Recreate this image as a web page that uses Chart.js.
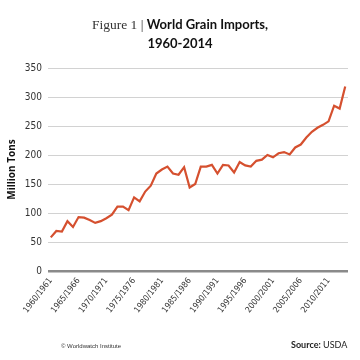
<!DOCTYPE html>
<html>
<head>
<meta charset="utf-8">
<script src="https://cdn.jsdelivr.net/npm/chart.js@4"></script>
<style>
  body { margin: 0; background: #fff; }
  #wrap { position: relative; width: 360px; height: 360px; }
  #title { position: absolute; left: 0; top: 15px; width: 360px; text-align: center; line-height: 18px; color: #111; }
  #title .fig { font-family: 'Liberation Serif', serif; font-size: 13.5px; color: #333; }
  #title .bold { font-family: 'Lato', sans-serif; font-weight: 700; font-size: 13px; }
  #copy { position: absolute; left: 61px; top: 343px; font-family: 'Liberation Sans', sans-serif; font-size: 6px; color: #333; }
  #source { position: absolute; left: 291px; top: 339px; font-family: 'Lato', sans-serif; font-size: 9px; color: #222; }
</style>
</head>
<body>
<div id="wrap">
  <canvas id="Chart1" width="360" height="360"></canvas>
  <div id="title"><span class="fig">Figure 1 | </span><span class="bold">World Grain Imports,</span><br><span class="bold">1960-2014</span></div>
  <div id="copy">© Worldwatch Institute</div>
  <div id="source"><b>Source:</b> USDA</div>
</div>
<script>
// marketing years 1960/1961 .. 2013/2014
const years = ['1960/1961','1961/1962','1962/1963','1963/1964','1964/1965','1965/1966','1966/1967','1967/1968','1968/1969','1969/1970',
  '1970/1971','1971/1972','1972/1973','1973/1974','1974/1975','1975/1976','1976/1977','1977/1978','1978/1979','1979/1980',
  '1980/1981','1981/1982','1982/1983','1983/1984','1984/1985','1985/1986','1986/1987','1987/1988','1988/1989','1989/1990',
  '1990/1991','1991/1992','1992/1993','1993/1994','1994/1995','1995/1996','1996/1997','1997/1998','1998/1999','1999/2000',
  '2000/2001','2001/2002','2002/2003','2003/2004','2004/2005','2005/2006','2006/2007','2007/2008','2008/2009','2009/2010',
  '2010/2011','2011/2012','2012/2013','2013/2014'];

// million tons
const imports = [58,69,68,86,76,93,92,88,83,86,
  91,97,111,111,105,127,120,137,147,168,
  175,180,168,166,179,144,150,180,180,183,
  168,183,182,170,188,182,180,190,192,200,
  196,203,205,201,213,218,230,240,247,252,
  258,285,280,318];

const yTicks = [0,50,100,150,200,250,300,350];

const ctx1 = document.getElementById('Chart1');
const myChart1 = new Chart(ctx1, {
    type: 'line',
    data: {
        labels: years,
        datasets: [{
            label: 'World Grain Imports',
            data: imports,
            borderColor: '#d5502f',
            borderWidth: 2.2,
            pointRadius: 0,
            tension: 0,
            fill: false
        }]
    },
    options: {
        responsive: false,
        animation: false,
        layout: {
            padding: { left: 6, top: 68, right: 12, bottom: 27 }
        },
        scales: {
            x: {
                offset: true,
                grid: { display: false, drawTicks: false },
                border: { display: false },
                afterFit: function(scale) { scale.height = 62; },
                ticks: {
                    autoSkip: false,
                    maxRotation: 52,
                    minRotation: 52,
                    padding: 5,
                    color: '#333',
                    font: { family: "'Liberation Sans Narrow', 'DejaVu Sans Condensed', sans-serif", size: 8.5 },
                    callback: function(value, index) {
                        return index % 5 === 0 ? years[index] : '';
                    }
                }
            },
            y: {
                min: 0,
                max: 350,
                afterBuildTicks: function(scale) {
                    scale.ticks = yTicks.map(v => ({ value: v }));
                },
                afterFit: function(scale) { scale.width = 42; },
                grid: {
                    drawTicks: false,
                    color: function(c) { return c.tick.value === 0 ? '#8a8a8a' : '#d2d2d2'; },
                    lineWidth: function(c) { return c.tick.value === 0 ? 2.5 : 1; }
                },
                border: { display: false },
                ticks: {
                    padding: 6,
                    color: '#333',
                    font: { family: "'Liberation Sans Narrow', 'DejaVu Sans Condensed', sans-serif", size: 10 }
                },
                title: {
                    display: true,
                    text: 'Million Tons',
                    color: '#111',
                    padding: 0,
                    font: { family: "'Open Sans', sans-serif", weight: 700, size: 10 }
                }
            }
        },
        plugins: {
            legend: { display: false },
            tooltip: { enabled: false }
        }
    }
});
</script>
</body>
</html>
